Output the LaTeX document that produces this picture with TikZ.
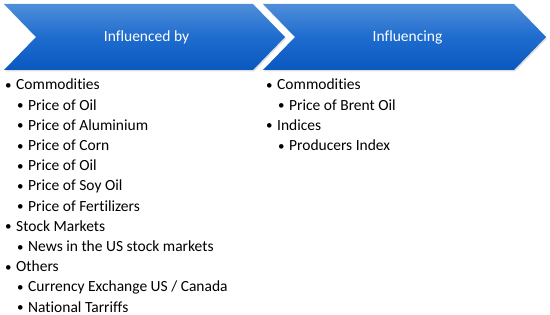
\documentclass[tikz,border=0pt]{standalone}
\usepackage{fontspec}
\setmainfont{Carlito}[Ligatures=NoCommon]
\usepackage{tikz}
\usetikzlibrary{positioning}
\usetikzlibrary{shadows}
\definecolor{chevtop}{RGB}{80,142,218}
\definecolor{chevmid}{RGB}{30,108,206}
\definecolor{chevbot}{RGB}{10,88,192}
\newcommand{\itm}[1]{\makebox[11pt][l]{\raisebox{0.5pt}{\fontsize{13}{18}\selectfont\textbullet}}#1}
\tikzset {
        chevshape/.style={top color=chevtop, bottom color=chevbot, middle color=chevmid, draw=none,
                drop shadow={opacity=0.25, shadow xshift=1pt, shadow yshift=-1.5pt}},
        chevtext/.style={inner sep=0pt, text=white, font=\fontsize{15.5}{18}\selectfont},
        itemnode/.style={inner sep=0pt, anchor=west, text height=11pt, text depth=4pt,
                minimum height=19.8pt, font=\fontsize{15.5}{18}\selectfont},
        default/.style={}
}
\begin{document}
\begin{tikzpicture}[x=1pt, y=1pt]
            \useasboundingbox (0,0) rectangle (550,315);
            % chevrons
            \path[chevshape] (4,311) -- (253,311) -- (285,278) -- (253,245) -- (4,245) -- (36,278) -- cycle;
            \path[chevshape] (263,311) -- (514,311) -- (546,278) -- (514,245) -- (263,245) -- (295,278) -- cycle;
            \node[chevtext] (InflBy) at (146.5,278) {Influenced by};
            \node[chevtext] (Infl) at (407.5,278) {Influencing};
            % influenced by
            \node[itemnode] (CommodA) at (5,228.5) {\itm{Commodities}};
            \node[itemnode, below=0pt of CommodA.south west, anchor=north west, xshift=12pt] (OilA) {\itm{Price of Oil}};
            \node[itemnode, below=0pt of OilA.south west, anchor=north west] (Alu) {\itm{Price of Aluminium}};
            \node[itemnode, below=0pt of Alu.south west, anchor=north west] (Corn) {\itm{Price of Corn}};
            \node[itemnode, below=0pt of Corn.south west, anchor=north west] (OilB) {\itm{Price of Oil}};
            \node[itemnode, below=0pt of OilB.south west, anchor=north west] (Soy) {\itm{Price of Soy Oil}};
            \node[itemnode, below=0pt of Soy.south west, anchor=north west] (Fert) {\itm{Price of Fertilizers}};
            \node[itemnode, below=0pt of Fert.south west, anchor=north west, xshift=-12pt] (Stock) {\itm{Stock Markets}};
            \node[itemnode, below=0pt of Stock.south west, anchor=north west, xshift=12pt] (News) {\itm{News in the US stock markets}};
            \node[itemnode, below=0pt of News.south west, anchor=north west, xshift=-12pt] (Others) {\itm{Others}};
            \node[itemnode, below=0pt of Others.south west, anchor=north west, xshift=12pt] (Currency) {\itm{Currency Exchange US / Canada}};
            \node[itemnode, below=0pt of Currency.south west, anchor=north west] (Tariffs) {\itm{National Tarriffs}};
            % influencing
            \node[itemnode] (CommodB) at (266,228.5) {\itm{Commodities}};
            \node[itemnode, below=0pt of CommodB.south west, anchor=north west, xshift=12pt] (Brent) {\itm{Price of Brent Oil}};
            \node[itemnode, below=0pt of Brent.south west, anchor=north west, xshift=-12pt] (Indices) {\itm{Indices}};
            \node[itemnode, below=0pt of Indices.south west, anchor=north west, xshift=12pt] (Producers) {\itm{Producers Index}};
        \end{tikzpicture}
\end{document}
